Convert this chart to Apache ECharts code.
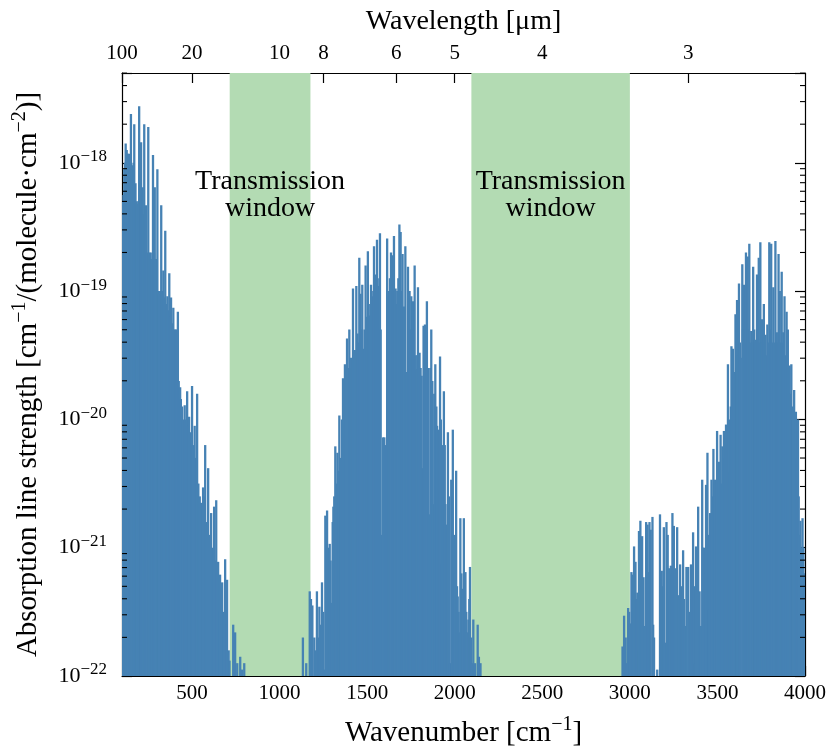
<!DOCTYPE html>
<html><head><meta charset="utf-8">
<script src="https://cdn.jsdelivr.net/npm/echarts@6/dist/echarts.min.js"></script>
<style>html,body{margin:0;padding:0;background:#fff}#chart{width:827px;height:747px}</style>
</head><body><div id="chart"></div>
<script>
// Spectral lines: [wavenumber cm^-1, log10(line strength in cm^-1/(molecule·cm^-2))]
const farInfraredLines = [[103,-18.3],[108,-18.25],[113,-18.05],[117,-18.0],[121,-17.85],[127,-17.9],[131,-18.0],[134,-17.93],[138,-18.05],[142,-17.93],[146,-18.0],[151,-17.62],[157,-18.02],[161,-18.05],[166,-18.0],[170,-17.70],[177,-18.16],[182,-18.3],[186,-18.32],[193,-18.3],[198,-17.56],[204,-18.3],[209,-17.84],[214,-18.35],[218,-18.19],[223,-18.4],[227,-17.70],[233,-18.45],[237,-18.33],[243,-18.7],[250,-17.72],[256,-18.7],[264,-18.70],[270,-18.75],[277,-17.94],[283,-18.7],[287,-18.19],[294,-18.75],[302,-18.05],[308,-19.0],[312,-19.02],[318,-19.0],[324,-18.33],[330,-19.0],[336,-18.84],[342,-19.05],[347,-18.53],[353,-19.1],[359,-19.04],[365,-19.15],[370,-18.86],[376,-19.2],[380,-19.05],[388,-19.25],[393,-19.13],[399,-19.3],[405,-19.3],[412,-19.3],[419,-19.16],[424,-19.7],[432,-19.75],[436,-19.84],[443,-19.9],[449,-20.0],[458,-19.89],[466,-20.0],[472,-19.78],[477,-20.05],[483,-19.98],[492,-20.1],[500,-19.74],[506,-20.2],[515,-20.05],[523,-20.3],[529,-19.8],[536,-20.5],[544,-20.6],[552,-20.65],[557,-20.7],[563,-20.53],[569,-20.6],[575,-20.2],[583,-20.8],[592,-20.38],[600,-20.9],[609,-20.73],[617,-21.0],[626,-20.68],[632,-21.1],[638,-20.63],[643,-21.2],[649,-21.11],[655,-21.5],[660,-21.21],[666,-21.6],[672,-21.27],[678,-21.7],[683,-21.5],[689,-21.09],[695,-21.6],[700,-21.25],[709,-21.8],[714,-21.88],[735,-21.6],[746,-21.66],[758,-21.9],[775,-21.85],[786,-21.95],[798,-21.9]];

const bendingBandLines = [[1133,-21.7],[1152,-21.9],[1172,-21.34],[1179,-21.4],[1187,-21.45],[1198,-21.7],[1207,-21.8],[1213,-21.34],[1221,-21.7],[1227,-21.46],[1235,-21.6],[1242,-21.27],[1249,-21.5],[1255,-21.95],[1261,-20.75],[1271,-20.71],[1278,-21.0],[1286,-20.97],[1291,-21.1],[1297,-21.43],[1303,-20.8],[1307,-20.68],[1312,-20.6],[1318,-20.21],[1325,-20.5],[1330,-20.26],[1335,-20.4],[1341,-19.97],[1347,-20.3],[1350,-20.41],[1356,-20.0],[1362,-19.68],[1367,-19.9],[1373,-19.57],[1379,-19.7],[1385,-19.37],[1392,-19.6],[1398,-19.3],[1404,-19.6],[1408,-19.52],[1413,-19.6],[1419,-18.98],[1425,-19.5],[1430,-19.46],[1438,-18.96],[1445,-19.33],[1450,-19.4],[1455,-18.74],[1462,-19.02],[1467,-19.3],[1472,-18.95],[1479,-19.45],[1485,-19.3],[1491,-18.8],[1498,-19.2],[1504,-18.69],[1509,-19.1],[1514,-19.19],[1522,-18.95],[1529,-19.04],[1535,-19.0],[1539,-18.65],[1543,-19.0],[1548,-18.87],[1556,-18.6],[1560,-18.9],[1565,-18.96],[1573,-18.55],[1577,-19.3],[1583,-20.9],[1591,-20.14],[1598,-20.14],[1606,-20.2],[1614,-18.59],[1618,-19.0],[1623,-19.04],[1630,-18.9],[1636,-18.7],[1644,-18.72],[1648,-19.0],[1653,-18.57],[1658,-19.0],[1662,-18.98],[1667,-19.1],[1672,-19.0],[1678,-18.9],[1684,-18.48],[1691,-18.54],[1697,-19.0],[1702,-18.71],[1710,-19.12],[1718,-18.65],[1727,-19.63],[1733,-18.81],[1738,-19.1],[1742,-19.0],[1747,-19.3],[1752,-19.04],[1758,-19.2],[1762,-19.08],[1766,-19.3],[1771,-18.8],[1776,-19.5],[1780,-19.61],[1786,-19.5],[1790,-18.97],[1795,-19.5],[1799,-19.48],[1805,-19.6],[1811,-19.66],[1817,-20.38],[1822,-19.27],[1830,-19.26],[1835,-19.5],[1841,-19.08],[1849,-19.6],[1856,-20.74],[1861,-19.6],[1866,-19.3],[1872,-19.7],[1876,-20.66],[1883,-19.8],[1889,-19.57],[1895,-19.9],[1899,-20.05],[1903,-20.1],[1908,-20.08],[1916,-19.51],[1921,-20.0],[1927,-21.12],[1933,-20.2],[1938,-19.78],[1943,-20.2],[1947,-20.66],[1953,-20.82],[1961,-20.1],[1967,-20.6],[1972,-21.9],[1980,-20.47],[1985,-20.6],[1989,-20.08],[1995,-20.9],[2000,-21.2],[2008,-20.4],[2013,-21.3],[2017,-21.38],[2022,-21.5],[2026,-21.66],[2032,-20.77],[2038,-21.2],[2044,-21.32],[2052,-20.77],[2056,-21.2],[2061,-21.19],[2066,-21.5],[2070,-21.66],[2078,-21.56],[2083,-21.4],[2087,-21.15],[2093,-21.7],[2098,-21.9],[2106,-21.56],[2116,-21.9],[2131,-21.6],[2138,-21.85],[2147,-21.9]];

const stretchBandLines = [[2958,-21.77],[2967,-21.53],[2976,-21.7],[2982,-21.9],[2990,-21.47],[2996,-21.5],[3001,-21.59],[3009,-21.19],[3013,-21.5],[3018,-21.21],[3024,-20.99],[3032,-21.11],[3037,-21.4],[3043,-21.35],[3048,-21.8],[3052,-20.87],[3060,-20.79],[3065,-21.3],[3070,-20.91],[3078,-21.23],[3085,-21.61],[3093,-20.8],[3101,-20.82],[3106,-21.19],[3112,-20.8],[3119,-20.86],[3129,-20.76],[3133,-21.6],[3138,-21.7],[3156,-21.95],[3172,-20.74],[3176,-21.3],[3182,-21.18],[3188,-21.3],[3194,-20.84],[3201,-21.74],[3209,-20.8],[3216,-20.9],[3224,-21.16],[3229,-21.4],[3234,-21.14],[3239,-21.2],[3243,-20.73],[3251,-20.83],[3258,-21.16],[3264,-21.3],[3270,-20.84],[3278,-21.37],[3287,-21.13],[3292,-21.4],[3297,-21.3],[3304,-21.02],[3309,-21.4],[3314,-21.61],[3323,-21.15],[3333,-21.15],[3338,-21.5],[3342,-21.98],[3349,-21.13],[3355,-21.4],[3361,-20.88],[3366,-21.3],[3371,-21.9],[3378,-20.99],[3384,-21.3],[3390,-20.68],[3398,-21.34],[3405,-21.61],[3413,-20.47],[3418,-21.0],[3424,-21.0],[3430,-21.2],[3435,-20.51],[3443,-20.26],[3448,-20.9],[3452,-21.48],[3458,-20.73],[3466,-20.47],[3472,-20.6],[3477,-20.23],[3482,-20.5],[3486,-20.47],[3492,-20.6],[3498,-20.09],[3504,-20.4],[3509,-20.33],[3514,-20.6],[3518,-20.12],[3524,-20.5],[3528,-20.21],[3533,-20.4],[3537,-20.09],[3543,-20.3],[3549,-20.04],[3554,-20.2],[3560,-19.57],[3566,-20.0],[3571,-20.41],[3576,-19.9],[3580,-19.43],[3588,-19.45],[3594,-19.63],[3603,-19.18],[3607,-19.6],[3612,-19.07],[3618,-19.5],[3623,-18.94],[3628,-19.4],[3633,-19.52],[3642,-18.79],[3646,-19.3],[3652,-18.95],[3657,-19.3],[3663,-18.7],[3668,-19.4],[3673,-18.73],[3677,-19.3],[3682,-18.63],[3688,-19.4],[3693,-19.31],[3699,-19.4],[3704,-18.81],[3710,-19.3],[3715,-19.38],[3720,-19.4],[3726,-18.87],[3731,-19.3],[3736,-18.74],[3740,-19.4],[3745,-18.62],[3750,-19.4],[3755,-19.22],[3760,-19.4],[3765,-19.1],[3770,-19.4],[3775,-19.34],[3780,-19.5],[3785,-19.26],[3790,-19.4],[3796,-18.62],[3802,-19.3],[3807,-18.63],[3813,-19.4],[3819,-18.97],[3825,-19.4],[3831,-18.61],[3836,-19.4],[3839,-19.32],[3844,-19.4],[3849,-18.71],[3856,-19.0],[3862,-19.4],[3867,-18.85],[3872,-19.4],[3876,-19.32],[3883,-19.04],[3889,-19.5],[3895,-19.16],[3902,-19.3],[3908,-19.6],[3912,-19.58],[3917,-19.8],[3922,-19.57],[3927,-20.0],[3932,-19.9],[3938,-19.77],[3944,-20.1],[3948,-19.94],[3954,-20.3],[3960,-20.0],[3964,-20.6],[3970,-20.9],[3974,-20.79],[3980,-21.0],[3986,-20.77],[3991,-21.0],[3997,-21.2]];

const windowBands = [[715, 1176], [2095, 3000]];
const windowLabel = 'Transmission\nwindow';
const wavenumberRange = [100, 4000];
const logStrengthRange = [-22, -17.3];          // y-axis limits, log10
const wavenumberTicks = [500, 1000, 1500, 2000, 2500, 3000, 3500, 4000];
const wavelengthTicks = [100, 20, 10, 8, 6, 5, 4, 3];
const decadeExponents = [-22, -21, -20, -19, -18];
const minorMultipliers = [2, 3, 4, 5, 6, 7, 8, 9];

// ECharts' log scale loses precision with values ~1e-22, so values are
// plotted on the log axis in units of 1e-22 and labelled back in true units.
const UNIT_EXP = -22;
const toAxis = e => Math.pow(10, e - UNIT_EXP);
const yMin = toAxis(logStrengthRange[0]);
const yMax = toAxis(logStrengthRange[1]);

const FONT = 'Liberation Serif';
const BLUE = '#4682b4';
const GREEN = '#b3dbb3';

const toPoints = arr => arr.map(d => [d[0], toAxis(d[1])]);
const lineData = toPoints(farInfraredLines).concat(toPoints(bendingBandLines), toPoints(stretchBandLines));

const minorTickValues = [];
decadeExponents.forEach(e => minorMultipliers.forEach(m => {
  const v = m * toAxis(e);
  if (v < yMax) minorTickValues.push([wavenumberRange[0], v]);
}));

const chart = echarts.init(document.getElementById('chart'), null, {renderer: 'canvas'});
const axisLineStyle = {color: '#000', width: 1.2};
const tickLine = {color: '#000', width: 1.2};
const supRich = (n, s, pad) => ({
  n: {fontFamily: FONT, fontSize: n, color: '#000'},
  s: {fontFamily: FONT, fontSize: s, color: '#000', padding: [0, 0, pad, 0]}
});

const yCommon = {
  type: 'log', logBase: 10, min: yMin, max: yMax,
  splitLine: {show: false},
  axisLine: {show: true, lineStyle: axisLineStyle},
  axisTick: {show: true, inside: true, length: 10, lineStyle: tickLine}
};

chart.setOption({
  animation: false,
  backgroundColor: '#fff',
  grid: {left: 122, right: 22, top: 73, bottom: 71, outerBoundsMode: 'none', containLabel: false},
  xAxis: [{
    type: 'value', position: 'bottom', min: wavenumberRange[0], max: wavenumberRange[1],
    splitLine: {show: false},
    axisLine: {show: true, lineStyle: axisLineStyle, onZero: false},
    axisTick: {show: true, inside: true, length: 10, customValues: wavenumberTicks, lineStyle: tickLine},
    axisLabel: {customValues: wavenumberTicks, margin: 7, color: '#000', fontFamily: FONT, fontSize: 21,
      formatter: v => String(v)},
    name: '{n|Wavenumber [cm}{s|−1}{n|]}', nameLocation: 'middle', nameGap: 39,
    nameTextStyle: {color: '#000', rich: supRich(29, 20, 16)}
  }, {
    type: 'value', position: 'top', min: wavenumberRange[0], max: wavenumberRange[1],
    splitLine: {show: false},
    axisLine: {show: true, lineStyle: axisLineStyle, onZero: false},
    axisTick: {show: true, inside: true, length: 10, customValues: wavelengthTicks.map(l => 10000 / l), lineStyle: tickLine},
    axisLabel: {customValues: wavelengthTicks.map(l => 10000 / l), margin: 9, color: '#000', fontFamily: FONT, fontSize: 21,
      formatter: v => String(Math.round(10000 / v))},
    name: 'Wavelength [μm]', nameLocation: 'middle', nameGap: 37,
    nameTextStyle: {color: '#000', fontFamily: FONT, fontSize: 28}
  }],
  yAxis: [Object.assign({}, yCommon, {
    position: 'left',
    axisLabel: {margin: 15, color: '#000',
      formatter: v => {
        const lg = Math.log10(v); const e = Math.round(lg);
        if (Math.abs(lg - e) > 1e-6) return '';
        return '{n|10}{s|−' + Math.abs(e + UNIT_EXP) + '}';
      },
      rich: supRich(22, 17, 12)
    },
    name: '{n|Absorption line strength [cm}{s|−1}{n|/(molecule·cm}{s|−2}{n|)]}',
    nameLocation: 'middle', nameGap: 76, nameRotate: 90,
    nameTextStyle: {color: '#000', rich: supRich(29, 20, 16)}
  }), Object.assign({}, yCommon, {
    position: 'right', axisLabel: {show: false}
  })],
  series: [{
    type: 'line', data: [], xAxisIndex: 0, yAxisIndex: 0, z: 1, silent: true,
    markArea: {
      silent: true,
      itemStyle: {color: GREEN, opacity: 1},
      label: {show: true, position: 'insideTop', distance: 95, formatter: windowLabel,
        fontFamily: FONT, fontSize: 28, lineHeight: 27, color: '#000', align: 'center'},
      data: windowBands.map(b => [{xAxis: b[0]}, {xAxis: b[1]}])
    }
  }, {
    type: 'custom', name: 'lines', xAxisIndex: 0, yAxisIndex: 0, z: 3, clip: true, silent: true,
    data: lineData,
    renderItem: (params, api) => {
      const x = api.value(0);
      const top = api.coord([x, api.value(1)]);
      const base = api.coord([x, yMin]);
      return {type: 'line', shape: {x1: top[0], y1: top[1], x2: base[0], y2: base[1]},
        style: {stroke: BLUE, lineWidth: 2.3}};
    }
  }, {
    type: 'custom', name: 'minorTicks', xAxisIndex: 0, yAxisIndex: 0, z: 5, clip: false, silent: true,
    data: minorTickValues,
    renderItem: (params, api) => {
      const p = api.coord([api.value(0), api.value(1)]);
      const cs = params.coordSys;
      const xl = cs.x, xr = cs.x + cs.width;
      return {type: 'group', children: [
        {type: 'line', shape: {x1: xl, y1: p[1], x2: xl + 5, y2: p[1]}, style: {stroke: '#000', lineWidth: 1.1}},
        {type: 'line', shape: {x1: xr - 5, y1: p[1], x2: xr, y2: p[1]}, style: {stroke: '#000', lineWidth: 1.1}}
      ]};
    }
  }]
});
</script></body></html>
